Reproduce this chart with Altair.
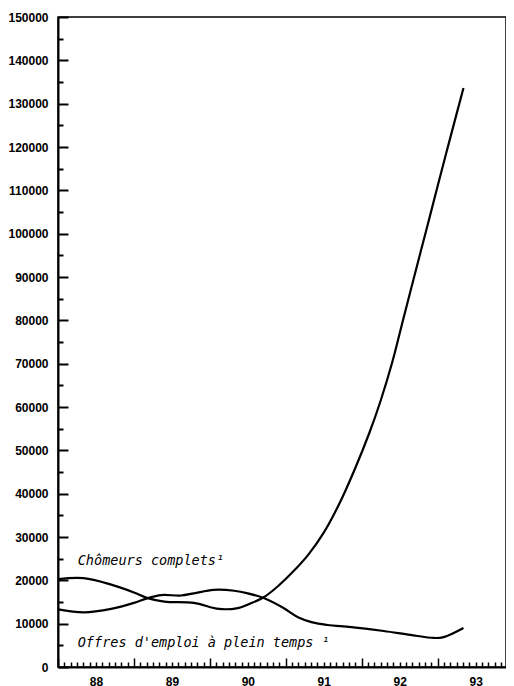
import altair as alt
import pandas as pd

# Chômeurs complets (time in years, e.g. 88.5 = mid-1988)
chom_t = [88.0, 88.34, 88.7, 89.0, 89.18, 89.4, 89.79, 90.12, 90.37, 90.54, 90.71,
          90.9, 91.09, 91.3, 91.5, 91.7, 91.9, 92.1, 92.25, 92.4, 92.55,
          92.7, 92.85, 93.0, 93.17, 93.34]
chom_v = [20300, 20500, 19000, 17200, 15900, 15100, 14800, 13400, 13600, 14700, 16100,
          18700, 21900, 26000, 31000, 37500, 45300, 54000, 61500, 70200, 80500,
          90700, 100800, 111000, 122400, 133600]

# Offres d'emploi à plein temps
off_t = [88.0, 88.34, 88.7, 89.0, 89.18, 89.36, 89.62, 89.79, 90.05, 90.32, 90.5,
         90.71, 90.97, 91.16, 91.35, 91.55, 91.86, 92.29, 92.64, 92.95, 93.08, 93.34]
off_v = [13300, 12600, 13400, 14800, 15900, 16600, 16500, 17000, 17800, 17600, 17000,
         15900, 13600, 11500, 10300, 9700, 9200, 8300, 7400, 6700, 6900, 9000]

year_labels = [88.5, 89.5, 90.5, 91.5, 92.5, 93.5]
month_ticks = [round(88 + i / 12, 6) for i in range(0, 71)]
y_label_ticks = list(range(0, 150001, 10000))
y_all_ticks = list(range(0, 150001, 5000))

labels = ["Chômeurs complets¹", "Offres d'emploi à plein temps ¹"]
label_t = [88.26, 88.26]
label_v = [24500, 5500]

df = pd.concat([
    pd.DataFrame({"t": chom_t, "v": chom_v, "series": "chom"}),
    pd.DataFrame({"t": off_t, "v": off_v, "series": "off"}),
])
ann = pd.DataFrame({"t": label_t, "v": label_v, "label": labels})

W, H = 448, 650
x_scale = alt.Scale(domain=[88, 93.9], nice=False, zero=False)
y_scale = alt.Scale(domain=[0, 150000], nice=False)
LF = "Liberation Sans"

lines = alt.Chart(df).mark_line(color="black", strokeWidth=2.2, interpolate="catmull-rom").encode(
    x=alt.X("t:Q", scale=x_scale, axis=alt.Axis(
        orient="bottom", values=year_labels, labelExpr="'' + floor(datum.value)",
        ticks=False, grid=False, domainColor="black", domainWidth=2,
        labelFont=LF, labelFontSize=12, labelFontWeight="bold", labelColor="black",
        labelPadding=9, labelFlush=False, labelOverlap=False, title=None)),
    y=alt.Y("v:Q", scale=y_scale, axis=alt.Axis(
        orient="left", values=y_label_ticks, format="d", ticks=False, grid=False,
        domainColor="black", domainWidth=2, labelFont=LF, labelFontSize=12,
        labelFontWeight="bold", labelColor="black", labelPadding=10,
        labelOverlap=False, title=None)),
    detail="series:N",
)

tick_layer = alt.Chart(df).mark_point(opacity=0).encode(
    x=alt.X("t:Q", scale=x_scale, axis=alt.Axis(
        orient="top", offset=-H, values=month_ticks, labels=False, domain=False,
        grid=False, tickColor="black", tickWidth=1.5,
        tickSize={"condition": {"test": "abs(datum.value - round(datum.value)) < 0.001", "value": 9}, "value": 5},
        title=None)),
    y=alt.Y("v:Q", scale=y_scale, axis=alt.Axis(
        orient="right", offset=-W, values=y_all_ticks, labels=False, domain=False,
        grid=False, tickColor="black", tickWidth=2,
        tickSize={"condition": {"test": "datum.value % 10000 === 0", "value": 10}, "value": 5},
        title=None)),
)

text = alt.Chart(ann).mark_text(
    align="left", baseline="middle", font="DejaVu Sans Mono", fontStyle="italic",
    fontSize=13.5, color="black").encode(
    x=alt.X("t:Q", scale=x_scale, axis=None),
    y=alt.Y("v:Q", scale=y_scale, axis=None),
    text="label:N",
)

chart = alt.layer(lines, tick_layer, text).resolve_axis(
    x="independent", y="independent"
).properties(
    width=W, height=H,
    autosize=alt.AutoSizeParams(type="none"),
    padding={"left": 50, "top": 9, "right": 0, "bottom": 25},
).configure_view(stroke="black", strokeWidth=1.5)

chart.save("out.html", embed_options={"renderer": "svg", "actions": False})
